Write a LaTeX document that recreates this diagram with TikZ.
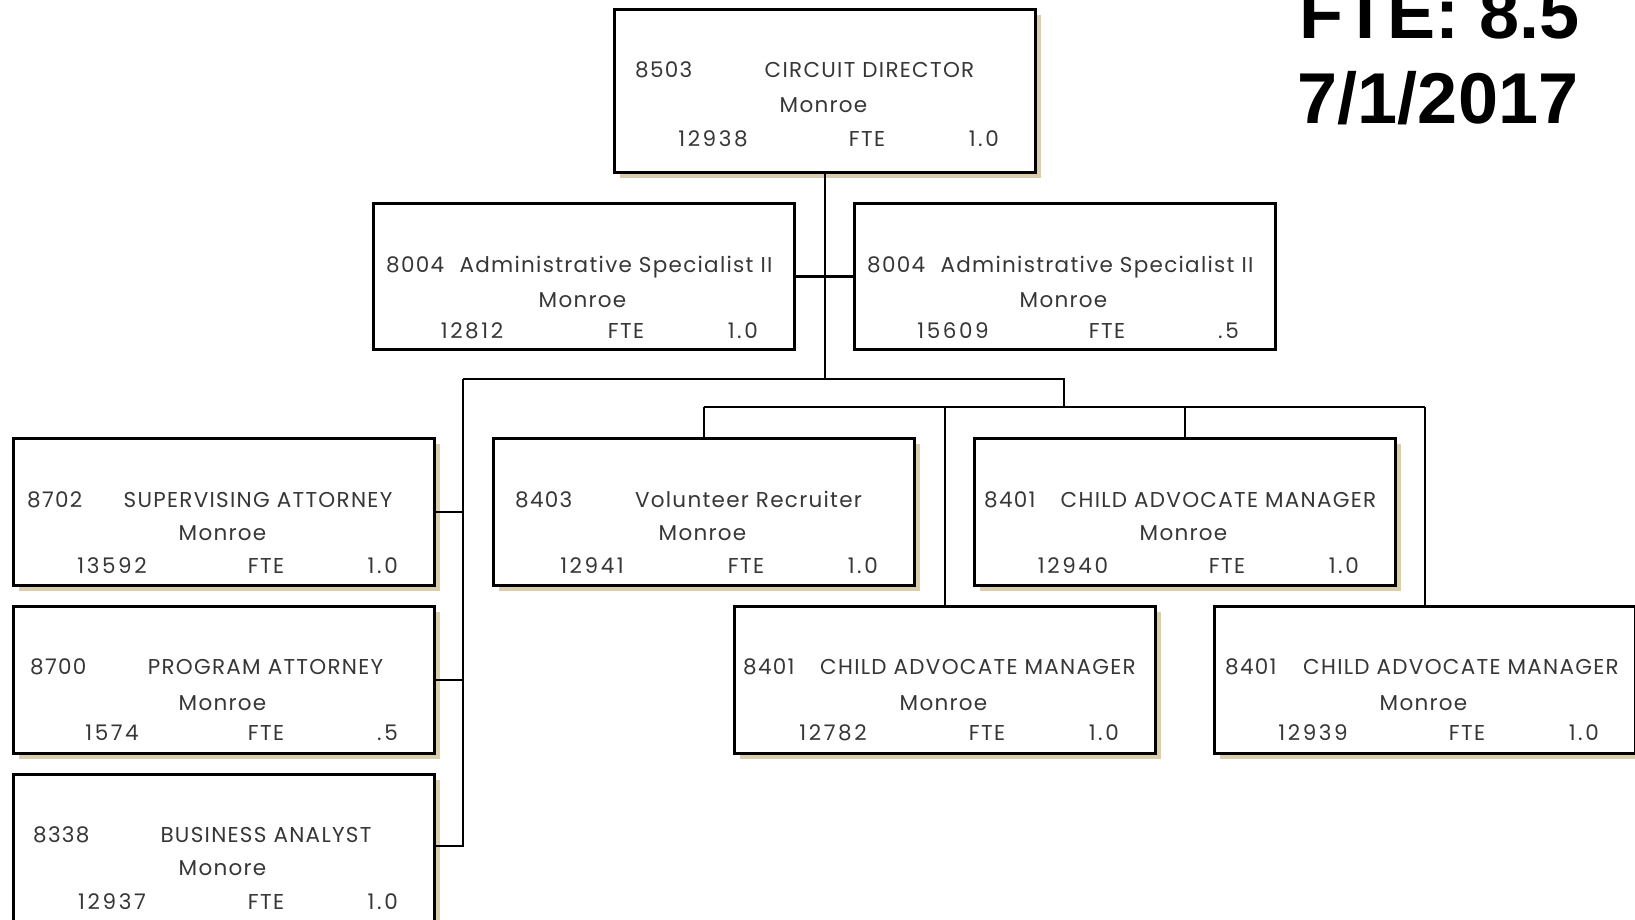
\documentclass[tikz,border=0pt]{standalone}
\usepackage{fontspec}
\usetikzlibrary{shadows}
\newfontfamily\boxfont[LetterSpace=6]{Poppins}
\newfontfamily\numfont[LetterSpace=12]{Poppins}
\newfontfamily\headfont{Liberation Sans}
\definecolor{tanc}{RGB}{217,205,172}
\definecolor{txtc}{RGB}{55,55,55}
\tikzset{
 box/.style={draw=black, line width=2.8pt, fill=white, rectangle, anchor=north west,
   minimum width=421pt, minimum height=147pt, inner sep=0pt},
 shbox/.style={box, drop shadow={shadow xshift=6pt, shadow yshift=-6pt, fill=tanc, opacity=1}},
 txt/.style={font=\boxfont\fontsize{21.5}{24}\selectfont, text=txtc, inner sep=0pt, anchor=base},
 ntxt/.style={txt, font=\numfont\fontsize{21.5}{24}\selectfont},
 conn/.style={draw=black, line width=2.5pt},
 head/.style={font=\headfont\bfseries\fontsize{72}{80}\selectfont, anchor=base, inner sep=0pt}
}
\def\ya{69}\def\yb{104}\def\yc{136}
% #1 name, #2 style, #3 x, #4 y, #5 code dx, #6 code, #7 title centre dx, #8 title, #9 number
\newcommand\obox[9]{%
 \node[#2] (#1) at (#3,#4) {};
 \node[txt,anchor=base west] (#1-code) at ([xshift=#5pt,yshift=-\ya pt]#1.north west) {#6};
 \node[txt] (#1-title) at ([xshift=#7pt,yshift=-\ya pt]#1.north west) {#8};
 \node[ntxt] (#1-num) at ([xshift=100pt,yshift=-\yc pt]#1.north west) {#9};
 \node[txt] (#1-fte) at ([xshift=254pt,yshift=-\yc pt]#1.north west) {FTE};
}
% #1 name, #2 location, #3 value
\newcommand\ofin[3]{%
 \node[txt] (#1-loc) at ([xshift=210.5pt,yshift=-\yb pt]#1.north west) {#2};
 \node[ntxt,anchor=base east] (#1-val) at ([xshift=386pt,yshift=-\yc pt]#1.north west) {#3};
}
\begin{document}
\begin{tikzpicture}[x=1pt,y=-1pt]
\useasboundingbox (0,0) rectangle (1635,919);
\fill[white] (0,0) rectangle (1635,919);

\node[head] (fte) at (1440,38) {FTE: 8.5};
\node[head] (date) at (1438,123) {7/1/2017};

\def\ya{69}\def\yb{104}\def\yc{138}
\obox{top}{shbox,minimum height=163pt}{613}{8}{22}{8503}{256.5}{CIRCUIT DIRECTOR}{12938}
\ofin{top}{Monroe}{1.0}

\def\ya{70}\def\yb{105}\def\yc{136}
\obox{adL}{box,minimum height=146pt}{372}{202}{14}{8004}{244}{Administrative Specialist II}{12812}
\ofin{adL}{Monroe}{1.0}
\obox{adR}{box,minimum height=146pt}{853}{202}{14}{8004}{244}{Administrative Specialist II}{15609}
\ofin{adR}{Monroe}{.5}

\def\ya{70}\def\yb{103}\def\yc{136}
\obox{sup}{shbox}{12}{437}{15}{8702}{246}{SUPERVISING ATTORNEY}{13592}
\ofin{sup}{Monroe}{1.0}
\obox{vol}{shbox}{492}{437}{23}{8403}{256.5}{Volunteer Recruiter}{12941}
\ofin{vol}{Monroe}{1.0}
\obox{ch1}{shbox}{973}{437}{11}{8401}{245.5}{CHILD ADVOCATE MANAGER}{12940}
\ofin{ch1}{Monroe}{1.0}

\def\ya{69}\def\yb{105}\def\yc{135}
\obox{prog}{shbox}{12}{605}{18}{8700}{253.5}{PROGRAM ATTORNEY}{1574}
\ofin{prog}{Monroe}{.5}
\obox{ch2}{shbox}{733}{605}{10}{8401}{245}{CHILD ADVOCATE MANAGER}{12782}
\ofin{ch2}{Monroe}{1.0}
\obox{ch3}{shbox}{1213}{605}{12}{8401}{248}{CHILD ADVOCATE MANAGER}{12939}
\ofin{ch3}{Monroe}{1.0}

\def\ya{69}\def\yb{102}\def\yc{136}
\obox{bus}{shbox,minimum height=180pt}{12}{773}{21}{8338}{254}{BUSINESS ANALYST}{12937}
\ofin{bus}{Monore}{1.0}

% connectors
\coordinate (busL) at (463,379);
\coordinate (busR) at (1064,379);
\coordinate (bus2) at (1064,407);
\draw[conn] (top.south) -- (top.south |- busL);
\draw[conn] (adL.east) -- (adR.west);
\draw[conn] (busL) -- (busR) -- (bus2);
\draw[conn] (vol.north |- bus2) -- (ch3.north |- bus2);
\draw[conn] (vol.north |- bus2) -- (vol.north);
\draw[conn] (ch2.north |- bus2) -- (ch2.north);
\draw[conn] (ch1.north |- bus2) -- (ch1.north);
\draw[conn] (ch3.north |- bus2) -- (ch3.north);
\draw[conn] (busL) |- (sup.east);
\draw[conn] (busL) |- (prog.east);
\draw[conn] (busL) |- ([yshift=-73pt]bus.north east);
\end{tikzpicture}
\end{document}
